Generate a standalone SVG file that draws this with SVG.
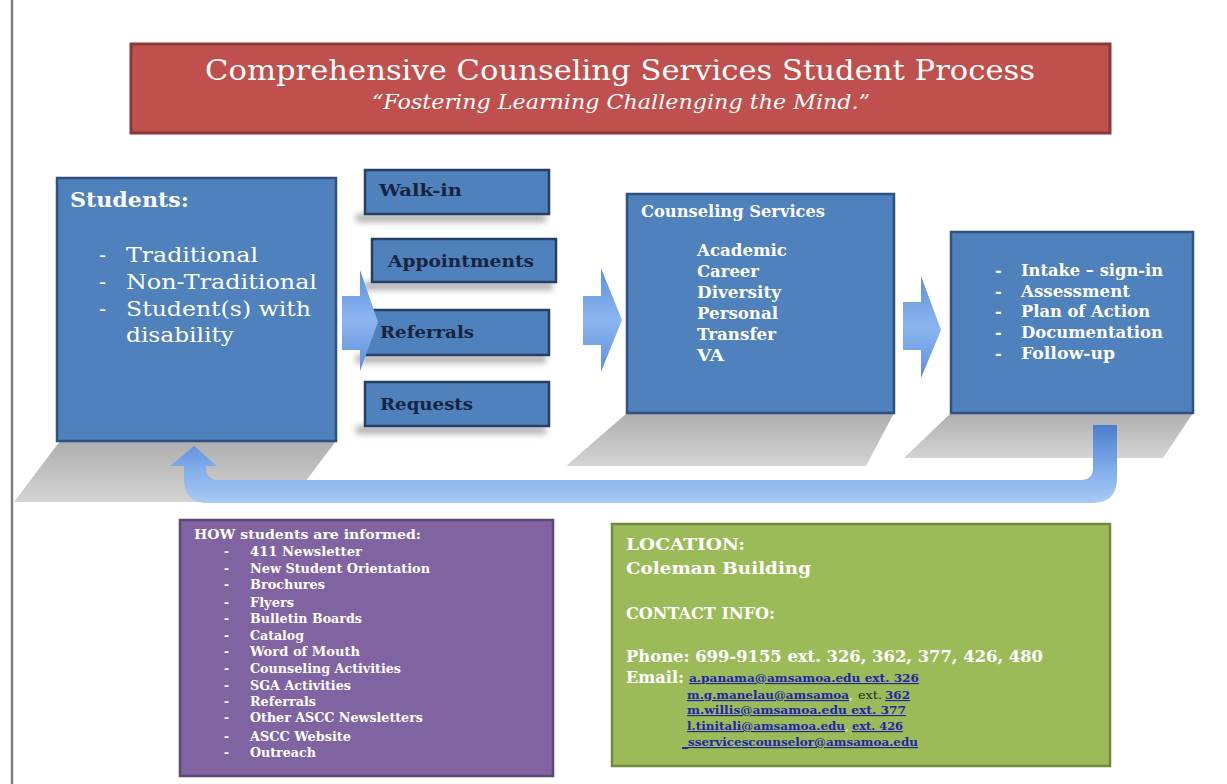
<svg xmlns="http://www.w3.org/2000/svg" width="1227" height="784" viewBox="0 0 1227 784">
<defs>
<style>
text{font-family:"DejaVu Serif","Liberation Serif",serif;}
.w{fill:#ffffff;}
.b{font-weight:bold;}
.navy{fill:#17243F;font-weight:bold;font-size:17px;}
.blue{fill:#4F81BD;stroke:#2F5283;stroke-width:2.5;}
.small{fill:#4F81BD;stroke:#263F66;stroke-width:2.5;}
.arrow{fill:url(#ag);}
.shadow{fill:url(#sg);}
.pl{fill:#ffffff;font-weight:bold;font-size:12px;}
.gl{fill:#ffffff;font-weight:bold;font-size:17px;}
.em{fill:#2424A8;font-size:11.5px;font-weight:bold;text-decoration:underline;}
</style>
<linearGradient id="ag" x1="0" y1="0" x2="0" y2="1">
<stop offset="0" stop-color="#5B8EDA"/>
<stop offset="0.5" stop-color="#8CB6F0"/>
<stop offset="1" stop-color="#5B8EDA"/>
</linearGradient>
<linearGradient id="rg" x1="0" y1="0" x2="0" y2="1">
<stop offset="0" stop-color="#4A7ECB"/>
<stop offset="0.55" stop-color="#7FACEA"/>
<stop offset="1" stop-color="#A9CAF5"/>
</linearGradient>
<linearGradient id="sg" x1="0" y1="0" x2="0" y2="1">
<stop offset="0" stop-color="#AEAEAE"/>
<stop offset="1" stop-color="#D4D4D4"/>
</linearGradient>
<filter id="blur" x="-10%" y="-50%" width="120%" height="200%">
<feGaussianBlur stdDeviation="3"/>
</filter>
</defs>
<rect width="1227" height="784" fill="#ffffff"/>
<line x1="12" y1="0" x2="12" y2="784" stroke="#7F7F7F" stroke-width="2.5"/>

<g id="shadows">
<polygon class="shadow" points="60,441 336,441 290,502 14,502"/>
<polygon class="shadow" points="627,413 894,413 866,466 566,466"/>
<polygon class="shadow" points="951,413 1193,413 1163,458 904,458"/>
<g filter="url(#blur)" fill="#9A9A9A" opacity="0.8">
<rect x="356" y="214" width="190" height="8"/>
<rect x="363" y="282" width="190" height="8"/>
<rect x="356" y="355" width="190" height="8"/>
<rect x="356" y="426" width="190" height="8"/>
</g>
</g>

<g id="title">
<rect x="131" y="44" width="979" height="89" fill="#C0504D" stroke="#8C3836" stroke-width="3"/>
<text x="620" y="80" class="w" font-size="27" text-anchor="middle" textLength="830" lengthAdjust="spacingAndGlyphs">Comprehensive Counseling Services Student Process</text>
<text x="621" y="109" class="w" font-size="20" font-style="italic" text-anchor="middle" textLength="498" lengthAdjust="spacingAndGlyphs">“Fostering Learning Challenging the Mind.”</text>
</g>

<g id="students">
<rect x="57" y="178" width="279" height="263" class="blue"/>
<text x="70" y="207" class="w b" font-size="20" textLength="119" lengthAdjust="spacingAndGlyphs">Students:</text>
<g class="w" font-size="21">
<text x="99" y="262">-</text><text x="126" y="262" textLength="132" lengthAdjust="spacingAndGlyphs">Traditional</text>
<text x="99" y="289">-</text><text x="126" y="289" textLength="191" lengthAdjust="spacingAndGlyphs">Non-Traditional</text>
<text x="99" y="316">-</text><text x="126" y="316" textLength="185" lengthAdjust="spacingAndGlyphs">Student(s) with</text>
<text x="126" y="342" textLength="108" lengthAdjust="spacingAndGlyphs">disability</text>
</g>
</g>

<g id="walkin">
<rect x="365" y="170" width="184" height="44" class="small"/>
<text x="379" y="196" class="navy" textLength="83" lengthAdjust="spacingAndGlyphs">Walk-in</text>
</g>
<g id="appointments">
<rect x="372" y="239" width="184" height="43" class="small"/>
<text x="388" y="267" class="navy" textLength="146" lengthAdjust="spacingAndGlyphs">Appointments</text>
</g>
<g id="referrals">
<rect x="365" y="310" width="184" height="45" class="small"/>
<text x="380" y="338" class="navy" textLength="94" lengthAdjust="spacingAndGlyphs">Referrals</text>
</g>
<g id="requests">
<rect x="365" y="382" width="184" height="44" class="small"/>
<text x="380" y="410" class="navy" textLength="93" lengthAdjust="spacingAndGlyphs">Requests</text>
</g>

<g id="counseling">
<rect x="627" y="194" width="267" height="219" class="blue"/>
<text x="641" y="217" class="w b" font-size="16" textLength="184" lengthAdjust="spacingAndGlyphs">Counseling Services</text>
<g class="w b" font-size="17">
<text x="697" y="256" textLength="90" lengthAdjust="spacingAndGlyphs">Academic</text>
<text x="697" y="277" textLength="62" lengthAdjust="spacingAndGlyphs">Career</text>
<text x="697" y="298" textLength="84" lengthAdjust="spacingAndGlyphs">Diversity</text>
<text x="697" y="319" textLength="81" lengthAdjust="spacingAndGlyphs">Personal</text>
<text x="697" y="340" textLength="79" lengthAdjust="spacingAndGlyphs">Transfer</text>
<text x="697" y="361" textLength="27" lengthAdjust="spacingAndGlyphs">VA</text>
</g>
</g>

<g id="process">
<rect x="951" y="232" width="242" height="181" class="blue"/>
<g class="w b" font-size="16">
<text x="995" y="276">-</text><text x="1021" y="276" textLength="142" lengthAdjust="spacingAndGlyphs">Intake – sign-in</text>
<text x="995" y="297">-</text><text x="1021" y="297" textLength="109" lengthAdjust="spacingAndGlyphs">Assessment</text>
<text x="995" y="317">-</text><text x="1021" y="317" textLength="129" lengthAdjust="spacingAndGlyphs">Plan of Action</text>
<text x="995" y="338">-</text><text x="1021" y="338" textLength="142" lengthAdjust="spacingAndGlyphs">Documentation</text>
<text x="995" y="359">-</text><text x="1021" y="359" textLength="94" lengthAdjust="spacingAndGlyphs">Follow-up</text>
</g>
</g>

<g id="connectors">
<polygon class="arrow" points="342,296 360,296 360,270 378,322 360,371 360,350 342,350"/>
<polygon class="arrow" points="583,296 601,296 601,268 622,320 601,372 601,345 583,345"/>
<polygon class="arrow" points="903,302 921,302 921,276 941,330 921,378 921,350 903,350"/>
<path fill="url(#rg)" d="M194,446 L217,466 L206,466 L206,468 Q206,480 218,480 L1081,480 Q1093,480 1093,468 L1093,425 L1117,425 L1117,478 Q1117,503 1092,503 L208,503 Q184,503 184,479 L184,466 L170,466 Z"/>
</g>

<g id="informed">
<rect x="180" y="520" width="373" height="256" fill="#8064A2" stroke="#5C4776" stroke-width="2.5"/>
<text x="194" y="539" class="w b" font-size="13" textLength="227" lengthAdjust="spacingAndGlyphs">HOW students are informed:</text>
<g class="pl">
<text x="224" y="556">-</text><text x="250" y="556" textLength="112" lengthAdjust="spacingAndGlyphs">411 Newsletter</text>
<text x="224" y="573">-</text><text x="250" y="573" textLength="180" lengthAdjust="spacingAndGlyphs">New Student Orientation</text>
<text x="224" y="589">-</text><text x="250" y="589" textLength="75" lengthAdjust="spacingAndGlyphs">Brochures</text>
<text x="224" y="607">-</text><text x="250" y="607" textLength="44" lengthAdjust="spacingAndGlyphs">Flyers</text>
<text x="224" y="623">-</text><text x="250" y="623" textLength="112" lengthAdjust="spacingAndGlyphs">Bulletin Boards</text>
<text x="224" y="640">-</text><text x="250" y="640" textLength="54" lengthAdjust="spacingAndGlyphs">Catalog</text>
<text x="224" y="656">-</text><text x="250" y="656" textLength="110" lengthAdjust="spacingAndGlyphs">Word of Mouth</text>
<text x="224" y="673">-</text><text x="250" y="673" textLength="151" lengthAdjust="spacingAndGlyphs">Counseling Activities</text>
<text x="224" y="690">-</text><text x="250" y="690" textLength="101" lengthAdjust="spacingAndGlyphs">SGA Activities</text>
<text x="224" y="706">-</text><text x="250" y="706" textLength="66" lengthAdjust="spacingAndGlyphs">Referrals</text>
<text x="224" y="722">-</text><text x="250" y="722" textLength="173" lengthAdjust="spacingAndGlyphs">Other ASCC Newsletters</text>
<text x="224" y="741">-</text><text x="250" y="741" textLength="101" lengthAdjust="spacingAndGlyphs">ASCC Website</text>
<text x="224" y="757">-</text><text x="250" y="757" textLength="66" lengthAdjust="spacingAndGlyphs">Outreach</text>
</g>
</g>

<g id="contact">
<rect x="612" y="524" width="498" height="242" fill="#9BBB59" stroke="#71893F" stroke-width="2.5"/>
<text x="626" y="550" class="gl" textLength="119" lengthAdjust="spacingAndGlyphs">LOCATION:</text>
<text x="626" y="574" class="gl" textLength="185" lengthAdjust="spacingAndGlyphs">Coleman Building</text>
<text x="626" y="619" class="gl" font-size="16" textLength="149" lengthAdjust="spacingAndGlyphs">CONTACT INFO:</text>
<text x="626" y="662" class="gl" textLength="417" lengthAdjust="spacingAndGlyphs">Phone: 699-9155 ext. 326, 362, 377, 426, 480</text>
<text x="626" y="683" class="gl" font-size="15" textLength="58" lengthAdjust="spacingAndGlyphs">Email:</text>
<text x="689" y="682" class="em" textLength="230" lengthAdjust="spacingAndGlyphs">a.panama@amsamoa.edu  ext. 326</text>
<text x="687" y="699" class="em" textLength="162" lengthAdjust="spacingAndGlyphs">m.g.manelau@amsamoa</text>
<text x="849" y="699" fill="#ffffff" font-size="11.5">,</text>
<text x="858" y="699" fill="#1E2A1A" font-size="11" textLength="24" lengthAdjust="spacingAndGlyphs">ext.</text>
<text x="885" y="699" class="em" textLength="25" lengthAdjust="spacingAndGlyphs">362</text>
<text x="687" y="714" class="em" textLength="219" lengthAdjust="spacingAndGlyphs">m.willis@amsamoa.edu  ext. 377</text>
<text x="687" y="730" class="em" textLength="158" lengthAdjust="spacingAndGlyphs">l.tinitali@amsamoa.edu</text>
<text x="845" y="730" fill="#ffffff" font-size="11.5">,</text>
<text x="852" y="730" class="em" textLength="51" lengthAdjust="spacingAndGlyphs">ext. 426</text>
<text x="682" y="746" class="em" textLength="236" lengthAdjust="spacingAndGlyphs">_sservicescounselor@amsamoa.edu</text>
</g>
</svg>
